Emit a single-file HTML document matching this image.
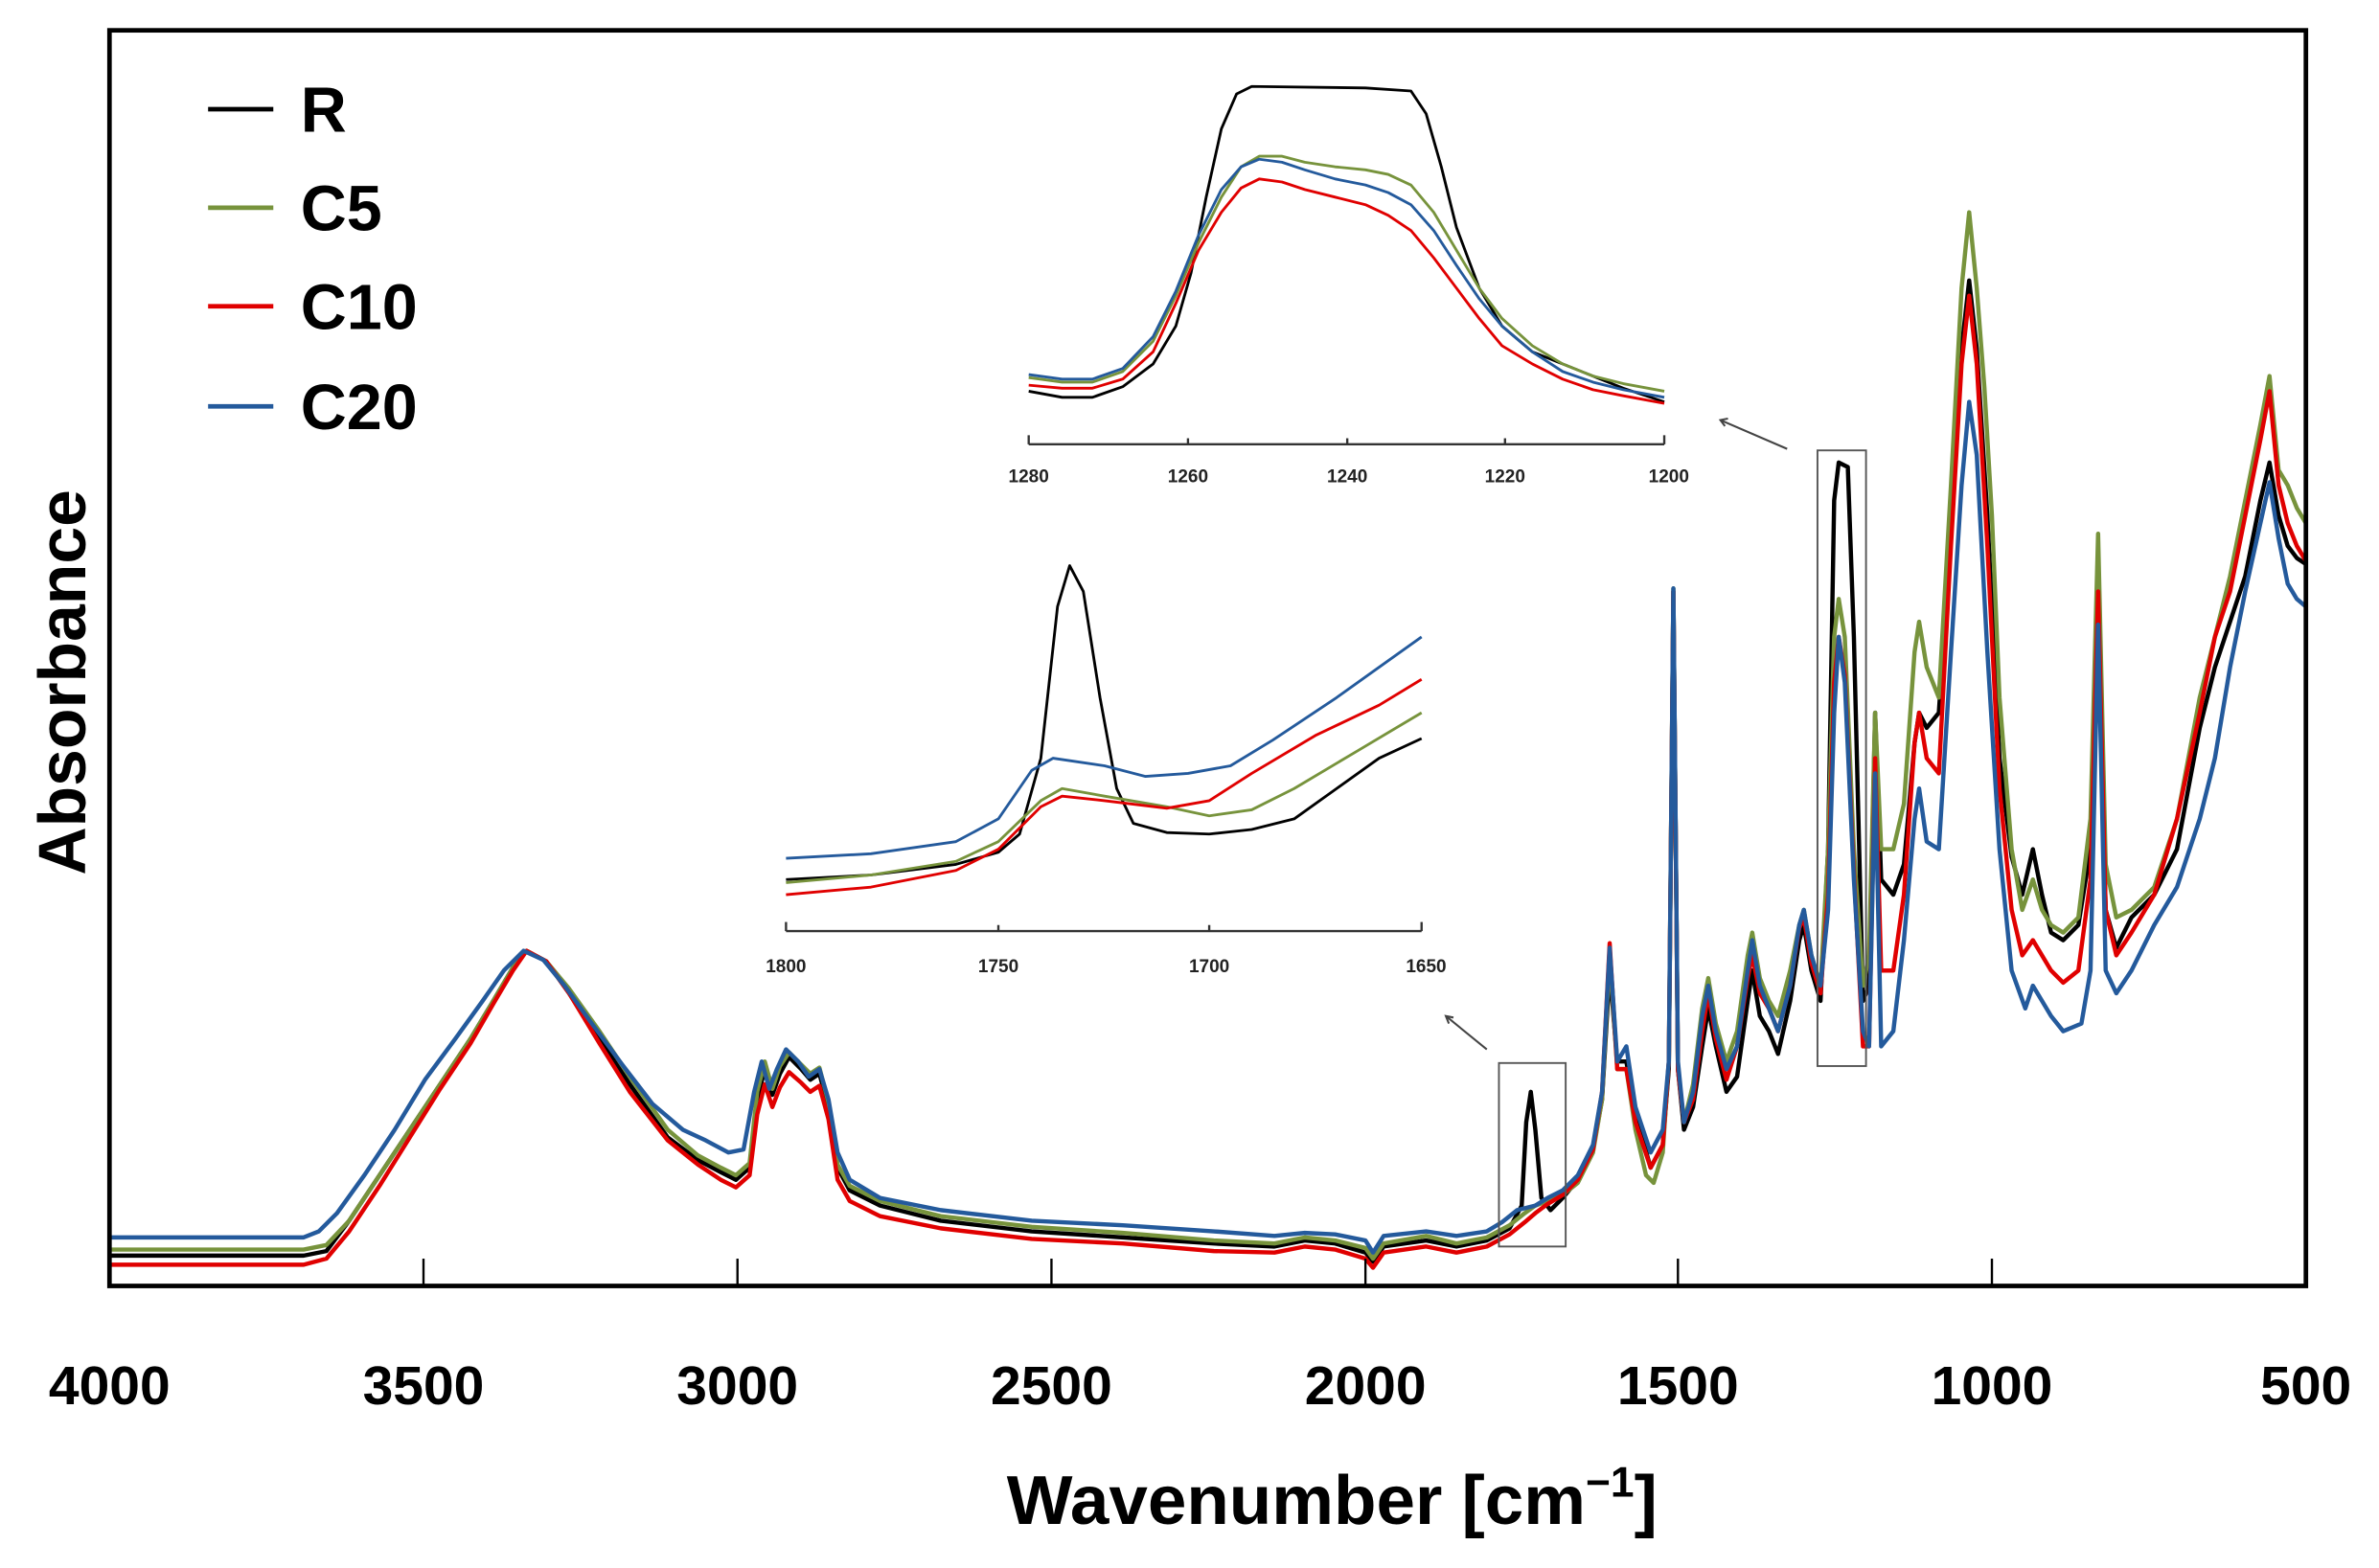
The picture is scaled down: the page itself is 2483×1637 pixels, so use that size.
<!DOCTYPE html>
<html><head><meta charset="utf-8"><style>
html,body{margin:0;padding:0;background:#fff;}
svg{display:block;}
text{font-family:"Liberation Sans","DejaVu Sans",sans-serif;font-weight:bold;}
</style></head><body>
<svg width="2483" height="1637" viewBox="0 0 1568 1034" xmlns="http://www.w3.org/2000/svg">
<rect x="0" y="0" width="1568" height="1034" fill="#fff"/>
<g fill="none" stroke-width="2.8" stroke-linejoin="round">
<polyline stroke="#000" points="72,828 200,828 215,825 230,805 250,775 270,745 290,715 310,685 325,660 338,638 347,627 360,634 375,655 395,685 415,715 440,750 460,765 475,773 485,778 494,770 499,725 504,705 509,722 514,708 520,697 528,705 534,712 540,708 546,730 552,770 560,785 580,795 620,805 680,812 740,816 800,820 840,822 860,818 880,820 900,826 905,832 912,822 940,818 960,822 980,818 995,810 1003,795 1006,740 1009,720 1012,745 1016,790 1022,798 1030,790 1040,778 1050,758 1056,725 1061,640 1066,700 1072,700 1078,735 1088,770 1096,755 1100,705 1103,390 1106,705 1110,745 1116,730 1122,690 1126,665 1131,690 1138,720 1145,710 1152,660 1155,640 1160,670 1166,680 1172,695 1180,660 1186,620 1189,610 1194,640 1200,660 1205,560 1209,330 1212,305 1218,308 1222,420 1228,660 1232,650 1236,470 1240,580 1248,590 1255,570 1262,490 1265,470 1270,480 1278,470 1286,350 1293,230 1298,185 1303,230 1310,340 1318,500 1326,565 1333,590 1340,560 1346,590 1352,615 1360,620 1370,610 1378,560 1383,412 1388,600 1395,625 1405,605 1420,590 1435,560 1450,480 1460,440 1470,410 1480,380 1490,330 1496,305 1502,340 1508,360 1514,368 1520,372"/>
<polyline stroke="#77933c" points="72,824 200,824 215,821 230,805 250,775 270,745 290,715 310,685 325,660 338,638 347,627 360,634 375,652 395,680 415,710 440,745 460,762 475,770 485,775 494,767 499,720 504,700 509,718 514,703 520,694 528,702 534,708 540,704 546,727 552,768 560,782 580,792 620,802 680,809 740,813 800,818 840,820 860,816 880,818 900,823 905,830 912,820 940,815 960,820 980,816 995,808 1005,800 1012,795 1020,792 1030,788 1040,780 1050,760 1056,725 1061,630 1066,705 1072,705 1078,745 1085,775 1090,780 1096,760 1100,700 1103,388 1106,705 1110,740 1116,715 1122,665 1126,645 1131,675 1138,700 1145,680 1152,630 1155,615 1160,645 1166,660 1172,670 1180,640 1186,610 1189,600 1194,630 1200,650 1205,560 1209,420 1212,395 1216,420 1222,560 1228,650 1232,630 1236,470 1240,560 1248,560 1255,530 1262,430 1265,410 1270,440 1278,460 1286,320 1293,190 1298,140 1303,190 1308,255 1313,340 1318,460 1326,560 1333,600 1340,580 1346,600 1352,610 1360,615 1370,605 1378,540 1383,352 1388,570 1395,605 1405,600 1420,585 1435,540 1450,460 1460,420 1470,380 1480,330 1490,280 1496,248 1502,310 1508,320 1514,335 1520,345"/>
<polyline stroke="#e00000" points="72,834 200,834 215,830 230,812 250,782 270,750 290,718 310,688 325,662 338,640 347,627 360,634 375,655 395,688 415,720 440,752 460,768 475,778 485,783 494,775 499,735 504,715 509,730 514,717 520,707 528,714 534,720 540,716 546,738 552,778 560,792 580,802 620,810 680,817 740,820 800,825 840,826 860,822 880,824 900,830 905,836 912,826 940,822 960,826 980,822 995,814 1005,806 1012,800 1020,794 1030,788 1040,778 1050,758 1056,720 1061,622 1066,705 1072,705 1078,740 1088,770 1096,755 1100,700 1103,390 1106,705 1110,740 1116,725 1122,680 1126,655 1131,685 1138,712 1145,690 1152,645 1155,630 1160,655 1166,665 1172,680 1180,650 1186,612 1189,605 1194,635 1200,655 1205,590 1209,450 1212,420 1216,445 1222,575 1228,690 1232,690 1236,500 1240,640 1248,640 1255,590 1262,490 1265,470 1270,500 1278,510 1286,360 1293,240 1298,195 1303,240 1310,360 1318,520 1326,600 1333,630 1340,620 1346,630 1352,640 1360,648 1370,640 1378,580 1383,390 1388,600 1395,630 1405,615 1420,590 1435,540 1450,470 1460,420 1470,390 1480,340 1490,290 1496,258 1502,320 1508,345 1514,360 1520,370"/>
<polyline stroke="#245a9c" points="72,816 200,816 210,812 222,800 240,775 260,745 280,712 300,685 318,660 332,640 345,627 358,633 372,650 390,675 410,702 430,728 450,745 465,752 480,760 490,758 497,720 502,700 507,718 512,705 518,692 526,700 533,710 540,705 546,725 552,760 560,778 580,790 620,798 680,805 740,808 800,812 840,815 860,813 880,814 900,818 905,826 912,815 940,812 960,815 980,812 990,806 1000,798 1012,795 1020,790 1030,785 1040,775 1050,755 1056,720 1061,625 1066,700 1072,690 1078,730 1088,760 1096,745 1100,700 1103,388 1106,700 1110,740 1116,720 1122,670 1126,650 1131,680 1138,705 1145,690 1152,640 1155,620 1160,650 1166,665 1172,680 1180,650 1186,610 1189,600 1194,630 1200,650 1205,600 1209,470 1212,420 1216,450 1222,580 1228,680 1232,690 1236,510 1240,690 1248,680 1255,620 1262,540 1265,520 1270,555 1278,560 1286,430 1293,320 1298,265 1303,300 1310,430 1318,560 1326,640 1335,665 1340,650 1346,660 1352,670 1360,680 1372,675 1378,640 1383,412 1388,640 1395,655 1405,640 1420,610 1435,585 1450,540 1460,500 1470,440 1480,390 1490,345 1496,318 1502,355 1508,385 1514,395 1520,400"/>
</g>
<rect x="72" y="20" width="1448" height="828" fill="none" stroke="#000" stroke-width="3"/>
<g stroke="#000" stroke-width="1.5">
<line x1="279" y1="848" x2="279" y2="830"/><line x1="486" y1="848" x2="486" y2="830"/>
<line x1="693" y1="848" x2="693" y2="830"/><line x1="900" y1="848" x2="900" y2="830"/>
<line x1="1106" y1="848" x2="1106" y2="830"/><line x1="1313" y1="848" x2="1313" y2="830"/>
</g>
<g font-size="36" text-anchor="middle">
<text x="72" y="926">4000</text><text x="279" y="926">3500</text><text x="486" y="926">3000</text>
<text x="693" y="926">2500</text><text x="900" y="926">2000</text><text x="1106" y="926">1500</text>
<text x="1313" y="926">1000</text><text x="1520" y="926">500</text>
</g>
<text x="878" y="1005" font-size="46" text-anchor="middle">Wavenumber [cm<tspan font-size="28" dy="-18">−1</tspan><tspan dy="18">]</tspan></text>
<text transform="translate(56,450) rotate(-90)" font-size="44" text-anchor="middle">Absorbance</text>
<g stroke-width="3">
<line x1="137" y1="72" x2="180" y2="72" stroke="#000"/>
<line x1="137" y1="137" x2="180" y2="137" stroke="#77933c"/>
<line x1="137" y1="202" x2="180" y2="202" stroke="#e00000"/>
<line x1="137" y1="268" x2="180" y2="268" stroke="#245a9c"/>
</g>
<g font-size="42">
<text x="198" y="87">R</text><text x="198" y="152">C5</text><text x="198" y="217">C10</text><text x="198" y="283">C20</text>
</g>
<rect x="988" y="701" width="44" height="121" fill="none" stroke="#555" stroke-width="1.2"/>
<rect x="1198" y="297" width="32" height="406" fill="none" stroke="#555" stroke-width="1.2"/>
<g stroke="#444" stroke-width="1.3" fill="none">
<line x1="980" y1="692" x2="953" y2="670"/><polyline points="958,671 953,670 955,675"/>
<line x1="1178" y1="296" x2="1134" y2="277"/><polyline points="1139,276 1134,277 1137,281"/>
</g>
<g fill="none" stroke-width="1.8" stroke-linejoin="round">
<polyline stroke="#000" points="678,258 700,262 720,262 740,255 760,240 775,215 785,180 795,130 805,85 815,62 825,57 900,58 930,60 940,75 950,110 960,150 975,190 990,215 1010,232 1030,240 1050,248 1070,256 1097,265"/>
<polyline stroke="#77933c" points="678,249 700,252 720,252 740,245 760,225 775,195 790,160 805,130 818,110 830,103 845,103 860,107 880,110 900,112 915,115 930,122 945,140 960,165 975,190 990,210 1010,228 1030,240 1050,248 1070,253 1097,258"/>
<polyline stroke="#e00000" points="678,254 700,256 720,256 740,250 760,232 775,200 790,165 805,140 818,124 830,118 845,120 860,125 880,130 900,135 915,142 930,152 945,170 960,190 975,210 990,228 1010,240 1030,250 1050,257 1070,261 1097,266"/>
<polyline stroke="#245a9c" points="678,247 700,250 720,250 740,243 760,222 775,192 790,155 805,125 818,110 830,105 845,107 860,112 880,118 900,122 915,127 930,135 945,152 960,175 975,197 990,215 1010,232 1030,245 1050,252 1070,257 1097,262"/>
<polyline stroke="#000" points="518,580 574,577 630,570 658,562 672,550 686,500 697,400 705,373 714,390 725,460 736,520 747,543 769,549 797,550 825,547 853,540 881,520 909,500 937,487"/>
<polyline stroke="#77933c" points="518,582 574,577 630,568 658,555 686,528 700,520 728,525 769,532 797,538 825,534 853,520 895,495 937,470"/>
<polyline stroke="#e00000" points="518,590 574,585 630,574 658,560 686,532 700,525 728,528 769,533 797,528 825,510 867,485 909,465 937,448"/>
<polyline stroke="#245a9c" points="518,566 574,563 630,555 658,540 680,508 694,500 728,505 755,512 783,510 811,505 839,488 881,460 909,440 937,420"/>
</g>
<g stroke="#333" stroke-width="1.5">
<line x1="678" y1="293" x2="1097" y2="293"/>
<line x1="678" y1="287" x2="678" y2="293"/><line x1="783" y1="289" x2="783" y2="293"/><line x1="888" y1="289" x2="888" y2="293"/><line x1="992" y1="289" x2="992" y2="293"/><line x1="1097" y1="287" x2="1097" y2="293"/>
<line x1="518" y1="614" x2="937" y2="614"/>
<line x1="518" y1="608" x2="518" y2="614"/><line x1="658" y1="610" x2="658" y2="614"/><line x1="797" y1="610" x2="797" y2="614"/><line x1="937" y1="608" x2="937" y2="614"/>
</g>
<g font-size="12" text-anchor="middle" fill="#222">
<text x="678" y="318">1280</text><text x="783" y="318">1260</text><text x="888" y="318">1240</text><text x="992" y="318">1220</text><text x="1100" y="318">1200</text>
<text x="518" y="641">1800</text><text x="658" y="641">1750</text><text x="797" y="641">1700</text><text x="940" y="641">1650</text>
</g>
</svg>
</body></html>
